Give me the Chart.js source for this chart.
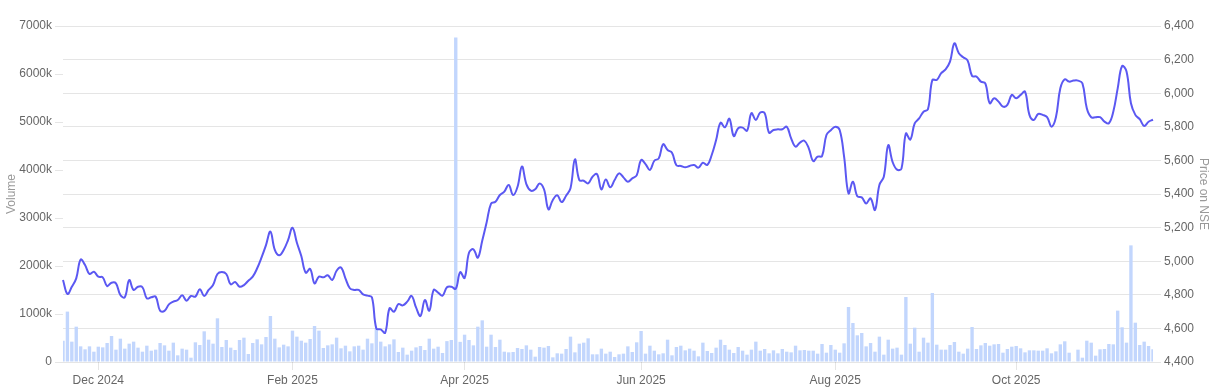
<!DOCTYPE html>
<html>
<head>
<meta charset="utf-8">
<script src="https://cdn.jsdelivr.net/npm/chart.js@4/dist/chart.umd.min.js"></script>
<style>
  html, body { margin: 0; padding: 0; background: #fff; }
  #wrap { width: 1215px; height: 391px; position: relative; }
</style>
</head>
<body>
<div id="wrap"><canvas id="c"></canvas></div>
<script>
// Trading sessions (NSE), month by month
const months = ['2024-11','2024-12','2025-01','2025-02','2025-03','2025-04','2025-05','2025-06','2025-07','2025-08','2025-09','2025-10','2025-11'];
const sessionDays = [
  [19,21,22,25,26,27,28,29],
  [2,3,4,5,6,9,10,11,12,13,16,17,18,19,20,23,24,26,27,30,31],
  [1,2,3,6,7,8,9,10,13,14,15,16,17,20,21,22,23,24,27,28,29,30,31],
  [1,3,4,5,6,7,10,11,12,13,14,17,18,19,20,21,24,25,27,28],
  [3,4,5,6,7,10,11,12,13,17,18,19,20,21,24,25,26,27,28],
  [1,2,3,4,7,8,9,11,15,16,17,21,22,23,24,25,28,29,30],
  [2,5,6,7,8,9,12,13,14,15,16,19,20,21,22,23,26,27,28,29,30],
  [2,3,4,5,6,9,10,11,12,13,16,17,18,19,20,23,24,25,26,27,30],
  [1,2,3,4,7,8,9,10,11,14,15,16,17,18,21,22,23,24,25,28,29,30,31],
  [1,4,5,6,7,8,11,12,13,14,18,19,20,21,22,25,26,28,29],
  [1,2,3,4,5,8,9,10,11,12,15,16,17,18,19,22,23,24,25,26,29,30],
  [1,3,6,7,8,9,10,13,14,15,16,17,20,21,23,24,27,28,29,30,31],
  [3,4,6,7,10,11,12,13,14,17,18]
];
const categories = [];
months.forEach((m, k) => sessionDays[k].forEach(d => categories.push(m + '-' + String(d).padStart(2, '0'))));

// Tick labels (x axis)
const tickMonths = ['2024-12','2025-02','2025-04','2025-06','2025-08','2025-10'];
const tickLabels = ['Dec 2024','Feb 2025','Apr 2025','Jun 2025','Aug 2025','Oct 2025'];

// Daily volume (shares)
const volume = [
  444000,1050000,424000,736000,326000,264000,326000,215000,319000,305000,
  396000,542000,257000,486000,278000,382000,424000,299000,215000,340000,
  236000,257000,396000,347000,236000,403000,139000,278000,257000,90000,
  410000,354000,639000,465000,382000,910000,312000,458000,299000,250000,
  458000,507000,167000,396000,472000,368000,521000,958000,486000,305000,
  361000,326000,653000,528000,444000,403000,479000,750000,653000,292000,
  347000,368000,507000,285000,340000,222000,326000,340000,257000,486000,
  389000,708000,424000,326000,368000,472000,208000,299000,153000,236000,
  305000,333000,250000,486000,278000,319000,188000,435000,458000,6760000,
  420000,569000,458000,347000,736000,868000,319000,569000,312000,465000,
  215000,201000,208000,292000,271000,347000,257000,111000,312000,299000,
  333000,97000,181000,174000,271000,528000,201000,382000,403000,493000,
  160000,160000,278000,174000,215000,104000,160000,174000,326000,208000,
  410000,646000,174000,340000,236000,160000,181000,465000,139000,312000,
  340000,243000,278000,236000,118000,403000,229000,188000,299000,465000,
  354000,257000,188000,312000,236000,153000,257000,424000,236000,271000,
  181000,243000,181000,271000,215000,201000,340000,243000,250000,236000,
  236000,174000,375000,194000,354000,257000,194000,389000,1146000,812000,
  556000,604000,326000,396000,215000,528000,153000,465000,278000,299000,
  153000,1354000,382000,715000,215000,507000,403000,1437000,361000,257000,
  257000,354000,417000,215000,174000,278000,729000,271000,347000,396000,
  340000,368000,375000,194000,271000,319000,333000,285000,201000,243000,
  243000,236000,236000,285000,181000,222000,368000,431000,194000,7000,
  257000,90000,444000,403000,132000,264000,271000,375000,368000,1070000,
  723000,403000,2430000,819000,354000,424000,333000,264000
];

// Closing price on NSE
const price = [
  4888,4805,4848,4898,5010,4977,4924,4937,4908,4904,
  4852,4872,4868,4799,4785,4888,4829,4848,4845,4779,
  4785,4789,4705,4704,4743,4759,4769,4797,4765,4793,
  4789,4833,4793,4829,4858,4924,4936,4924,4862,4876,
  4848,4858,4884,4908,4958,5023,5096,5176,5067,5035,
  5067,5126,5199,5110,5031,4932,4954,4868,4908,4904,
  4916,4888,4943,4963,4898,4839,4829,4829,4803,4795,
  4785,4600,4594,4574,4720,4699,4745,4737,4759,4793,
  4725,4674,4769,4705,4829,4813,4795,4845,4848,4836,
  4935,4900,5050,5071,5021,5122,5231,5343,5354,5394,
  5414,5454,5394,5443,5564,5459,5420,5428,5463,5428,
  5309,5364,5392,5352,5390,5434,5606,5483,5479,5463,
  5503,5519,5428,5487,5440,5483,5523,5499,5473,5493,
  5511,5602,5578,5543,5598,5612,5696,5662,5646,5571,
  5567,5559,5567,5573,5557,5586,5573,5632,5721,5824,
  5797,5848,5745,5791,5795,5777,5881,5841,5885,5881,
  5765,5781,5785,5785,5801,5731,5682,5706,5717,5672,
  5596,5622,5626,5751,5780,5801,5781,5622,5404,5473,
  5386,5380,5344,5374,5305,5454,5503,5690,5590,5545,
  5551,5760,5724,5820,5850,5890,5904,6079,6079,6119,
  6142,6188,6297,6238,6214,6194,6103,6099,6069,6059,
  5940,5970,5950,5920,5930,5990,5970,5990,6009,5871,
  5841,5877,5871,5857,5801,5857,6029,6083,6069,6075,
  6075,6059,5911,5857,5857,5857,5831,5821,5890,6029,
  6162,6129,5940,5871,5845,5805,5830,5842
];

// Index of first session of each labelled month
const tickIndex = tickMonths.map(m => categories.findIndex(d => d.startsWith(m)));

new Chart(document.getElementById('c'), {
  type: 'bar',
  data: {
    labels: categories,
    datasets: [
      {
        type: 'line',
        label: 'Price on NSE',
        data: price,
        yAxisID: 'y1',
        borderColor: '#5b58f2',
        backgroundColor: '#5b58f2',
        borderWidth: 2,
        pointRadius: 0,
        tension: 0.4,
        order: 0
      },
      {
        type: 'bar',
        label: 'Volume',
        data: volume,
        yAxisID: 'y',
        backgroundColor: '#c2d6fd',
        barPercentage: 0.9,
        categoryPercentage: 0.85,
        order: 1
      }
    ]
  },
  options: {
    responsive: true,
    maintainAspectRatio: false,
    animation: false,
    layout: { padding: { top: 26, bottom: 0, left: 0, right: 0 } },
    plugins: { legend: { display: false }, tooltip: { enabled: false } },
    scales: {
      x: {
        offset: false,
        grid: { drawOnChartArea: false, offset: false, drawTicks: true, tickLength: 8 },
        border: { display: false },
        afterBuildTicks: (scale) => {
          scale.ticks = tickIndex.map(i => ({ value: i }));
        },
        afterFit: (scale) => { scale.height = 29; },
        ticks: {
          autoSkip: false,
          maxRotation: 0,
          color: '#666',
          font: { size: 12 },
          callback: function (value) {
            const k = tickIndex.indexOf(value);
            return k >= 0 ? tickLabels[k] : null;
          }
        }
      },
      y: {
        position: 'left',
        min: 0,
        max: 7000000,
        grid: { drawOnChartArea: false, drawTicks: true },
        border: { display: false },
        afterFit: (scale) => { scale.width = 63; },
        ticks: {
          stepSize: 1000000,
          color: '#666',
          font: { size: 12 },
          callback: (v) => v === 0 ? '0' : (v / 1000) + 'k'
        },
        title: { display: true, text: 'Volume', color: '#999', font: { size: 12 } }
      },
      y1: {
        position: 'right',
        min: 4400,
        max: 6400,
        grid: { drawOnChartArea: true, drawTicks: true, color: 'rgba(0,0,0,0.1)' },
        border: { display: false },
        afterFit: (scale) => { scale.width = 62; },
        ticks: { stepSize: 200, color: '#666', font: { size: 12 } },
        title: { display: true, text: 'Price on NSE', color: '#999', font: { size: 12 } }
      }
    }
  }
});
</script>
</body>
</html>
